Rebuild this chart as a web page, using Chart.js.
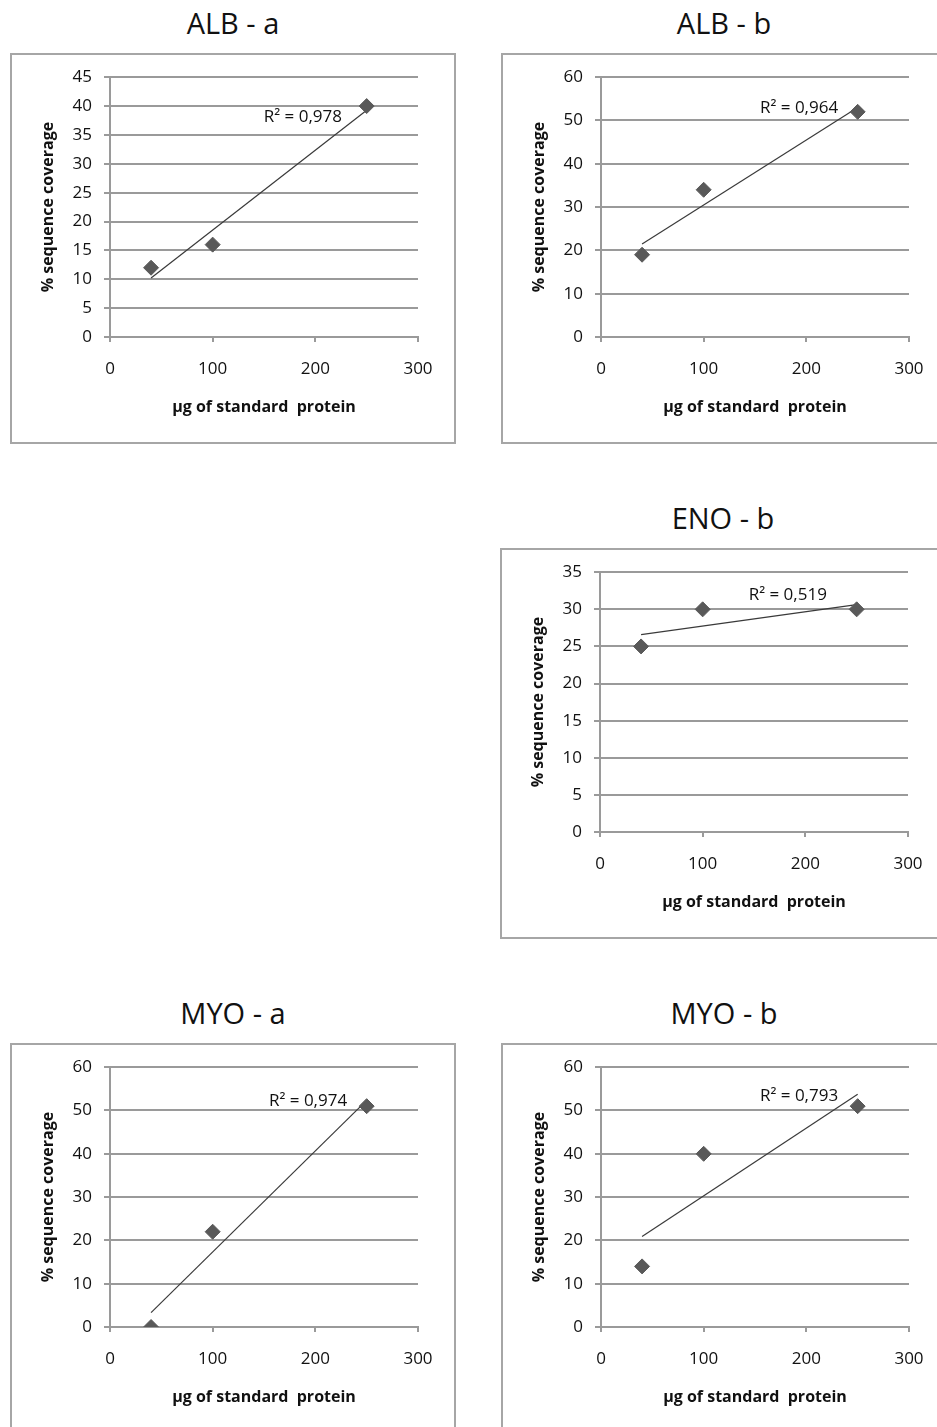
<!DOCTYPE html>
<html>
<head>
<meta charset="utf-8">
<title>Sequence coverage vs. standard protein amount</title>
<script src="https://cdn.jsdelivr.net/npm/chart.js@4/dist/chart.umd.min.js"></script>
<style>
  html, body { margin: 0; padding: 0; background: #fff; }
  body { width: 937px; height: 1427px; overflow: hidden; position: relative; font-family: "Open Sans", sans-serif; }
  .title { position: absolute; width: 446px; text-align: center; font-size: 29px; line-height: 40px; color: #111; }
  .box { position: absolute; width: 442px; height: 387px; border: 2px solid #a6a6a6; background: #fff; }
  .box canvas { display: block; }
</style>
</head>
<body>
<script>
// Amount of standard protein loaded (µg) – shared by every panel
const doses = [40, 100, 250];

// % sequence coverage per protein / sample
const albA = [12, 16, 40];
const albB = [19, 34, 52];
const enoB = [25, 30, 30];
const myoA = [0, 22, 51];
const myoB = [14, 40, 51];

const panelTitles = ['ALB - a', 'ALB - b', 'ENO - b', 'MYO - a', 'MYO - b'];
const r2Values = ['0,978', '0,964', '0,519', '0,974', '0,793'];
const yMaxima = [45, 60, 35, 60, 60];
const ySteps = [5, 10, 5, 10, 10];
const xTicks = [0, 100, 200, 300];

const xTitle = 'µg of standard  protein';
const yTitle = '% sequence coverage';

// Panel layout: outer box position and where the R² label is anchored (data units)
const panels = [
  { values: albA, left: 10,  top: 53,   r2At: [226, 38.1] },
  { values: albB, left: 501, top: 53,   r2At: [231, 52.9] },
  { values: enoB, left: 500, top: 548,  r2At: [221, 31.9] },
  { values: myoA, left: 10,  top: 1043, r2At: [231, 52.2] },
  { values: myoB, left: 501, top: 1043, r2At: [231, 53.3] }
];

// Least-squares line through the points, evaluated at the first and last dose
function trendline(xs, ys) {
  const n = xs.length;
  const mx = xs.reduce((a, b) => a + b, 0) / n;
  const my = ys.reduce((a, b) => a + b, 0) / n;
  let sxy = 0, sxx = 0;
  for (let i = 0; i < n; i++) { sxy += (xs[i] - mx) * (ys[i] - my); sxx += (xs[i] - mx) ** 2; }
  const slope = sxy / sxx;
  const icpt = my - slope * mx;
  const x0 = Math.min(...xs), x1 = Math.max(...xs);
  return [{ x: x0, y: icpt + slope * x0 }, { x: x1, y: icpt + slope * x1 }];
}

const gridColor = '#9a9a9a';
const tickFont = { family: 'Open Sans', size: 17, lineHeight: 1.2 };
const axisTitleFont = { family: 'Open Sans', size: 16, weight: 'bold', lineHeight: 1.2 };

// Draws the "R² = …" annotation next to each trendline
const r2Label = {
  id: 'r2Label',
  afterDatasetsDraw(chart, args, opts) {
    const { ctx, scales: { x, y } } = chart;
    ctx.save();
    ctx.font = '17px "Open Sans"';
    ctx.fillStyle = '#111';
    ctx.textAlign = 'right';
    ctx.textBaseline = 'middle';
    ctx.fillText('R² = ' + opts.text, x.getPixelForValue(opts.at[0]), y.getPixelForValue(opts.at[1]));
    ctx.restore();
  }
};

panels.forEach((p, i) => {
  const title = document.createElement('div');
  title.className = 'title';
  title.textContent = panelTitles[i];
  title.style.left = p.left + 'px';
  title.style.top = (p.top - 50) + 'px';
  document.body.appendChild(title);

  const box = document.createElement('div');
  box.className = 'box';
  box.style.left = p.left + 'px';
  box.style.top = p.top + 'px';
  const canvas = document.createElement('canvas');
  canvas.width = 442;
  canvas.height = 387;
  box.appendChild(canvas);
  document.body.appendChild(box);

  const points = doses.map((d, k) => ({ x: d, y: p.values[k] }));

  new Chart(canvas, {
    type: 'scatter',
    data: {
      datasets: [
        {
          data: points,
          pointStyle: 'rectRot',
          pointRadius: 7.5,
          pointHoverRadius: 7.5,
          backgroundColor: '#595959',
          borderColor: '#595959',
          borderWidth: 1
        },
        {
          data: trendline(doses, p.values),
          showLine: true,
          pointRadius: 0,
          borderColor: '#3a3a3a',
          borderWidth: 1.2
        }
      ]
    },
    options: {
      responsive: false,
      animation: false,
      devicePixelRatio: 1,
      layout: { padding: { top: 20, right: 36, left: 0, bottom: 0 } },
      plugins: {
        legend: { display: false },
        tooltip: { enabled: false },
        r2Label: { text: r2Values[i], at: p.r2At }
      },
      scales: {
        x: {
          type: 'linear',
          min: 0,
          max: 300,
          afterBuildTicks: s => { s.ticks = xTicks.map(v => ({ value: v })); },
          afterFit: s => { s.height = 105; },
          grid: { drawOnChartArea: false, drawTicks: true, tickLength: 5, color: gridColor, lineWidth: 2 },
          border: { display: true, color: gridColor, width: 2 },
          ticks: { font: tickFont, color: '#111', padding: 17, maxRotation: 0 },
          title: { display: true, text: xTitle, font: axisTitleFont, color: '#111', padding: { top: 0, bottom: 25.4 } }
        },
        y: {
          type: 'linear',
          min: 0,
          max: yMaxima[i],
          ticks: { stepSize: ySteps[i], font: tickFont, color: '#111', padding: 12 },
          afterFit: s => { s.width = 98; },
          grid: { color: gridColor, lineWidth: 2, drawTicks: true, tickLength: 6 },
          border: { display: true, color: gridColor, width: 2 },
          title: { display: true, text: yTitle, font: axisTitleFont, color: '#111', padding: { top: 26.4, bottom: 0 } }
        }
      }
    },
    plugins: [r2Label]
  });
});
</script>
</body>
</html>
